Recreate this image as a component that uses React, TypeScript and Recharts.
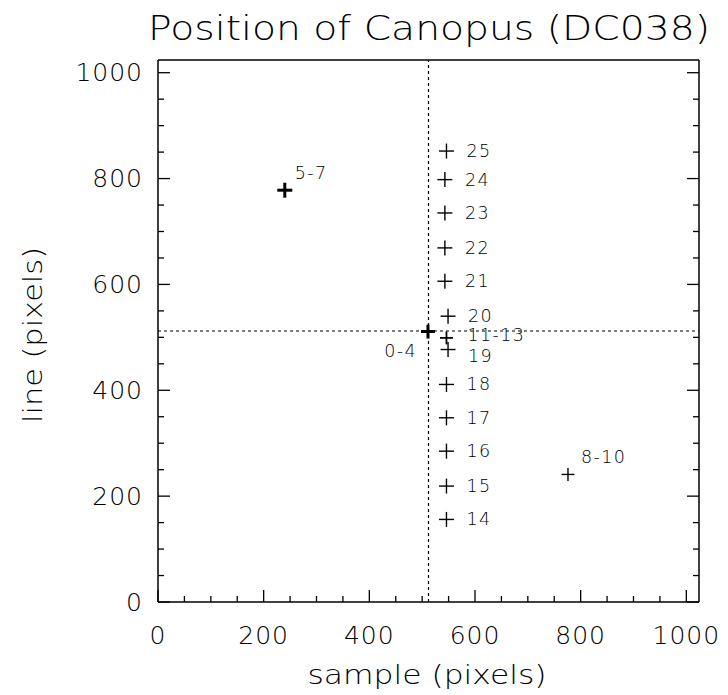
import React from "react";
import { ScatterChart, Scatter, XAxis, YAxis, ReferenceLine } from "recharts";

// frames 14-25, one exposure each
const singleLabels = ["14", "15", "16", "17", "18", "19", "20", "21", "22", "23", "24", "25"];
const singleSample = [546, 546, 546, 546, 546, 549, 549, 543, 543, 543, 543, 546];
const singleLine = [156, 219, 285, 348, 411, 477, 540, 606, 669, 735, 798, 852];

// grouped exposures
const groupLabels = ["0-4", "5-7", "8-10", "11-13"];
const groupSample = [511, 240, 776, 546];
const groupLine = [511, 778, 241, 499];

// boresight crosshair
const centerSample = 512;
const centerLine = 512;

const axisMax = 1024;
const majorTicks = [0, 200, 400, 600, 800, 1000];
const minorTicks = [
  0, 50, 100, 150, 200, 250, 300, 350, 400, 450, 500,
  550, 600, 650, 700, 750, 800, 850, 900, 950, 1000,
];

const FONT = "'DejaVu Sans', sans-serif";
const WEIGHT = 200;
const INK = "#000";

const singles = singleLabels.map((label, i) => ({
  label,
  sample: singleSample[i],
  line: singleLine[i],
}));
const groups = groupLabels.map((label, i) => ({
  label,
  sample: groupSample[i],
  line: groupLine[i],
}));
const pick = (label: string) => groups.filter((g) => g.label === label);
// label 19 sits a little lower than the others so it clears 11-13
const singlesMain = singles.filter((s) => s.label !== "19");
const singles19 = singles.filter((s) => s.label === "19");

const isMajor = (v: number) => majorTicks.includes(v);

function BottomTick({ x, y, payload }: any) {
  const v = payload.value;
  return (
    <g>
      <line x1={x} y1={y} x2={x} y2={y - (isMajor(v) ? 12 : 6)} stroke={INK} strokeWidth={1.3} />
      {isMajor(v) && (
        <text x={x} y={y + 33} textAnchor="middle" dominantBaseline="central" fontFamily={FONT} fontWeight={WEIGHT} fontSize={25} letterSpacing={1} fill={INK}>
          {v}
        </text>
      )}
    </g>
  );
}

function TopTick({ x, y, payload }: any) {
  const v = payload.value;
  return <line x1={x} y1={y} x2={x} y2={y + (isMajor(v) ? 12 : 6)} stroke={INK} strokeWidth={1.3} />;
}

function LeftTick({ x, y, payload }: any) {
  const v = payload.value;
  return (
    <g>
      <line x1={x} y1={y} x2={x + (isMajor(v) ? 12 : 6)} y2={y} stroke={INK} strokeWidth={1.3} />
      {isMajor(v) && (
        <text x={x - 15} y={y} textAnchor="end" dominantBaseline="central" fontFamily={FONT} fontWeight={WEIGHT} fontSize={25} letterSpacing={1} fill={INK}>
          {v}
        </text>
      )}
    </g>
  );
}

function RightTick({ x, y, payload }: any) {
  const v = payload.value;
  return <line x1={x} y1={y} x2={x - (isMajor(v) ? 12 : 6)} y2={y} stroke={INK} strokeWidth={1.3} />;
}

// plus marker with its label placed relative to it
function plus(half: number, sw: number, dx: number, dy: number, anchor: "start" | "end") {
  return (props: any) => {
    const { cx, cy, payload } = props;
    return (
      <g>
        <line x1={cx - half} y1={cy} x2={cx + half} y2={cy} stroke={INK} strokeWidth={sw} />
        <line x1={cx} y1={cy - half} x2={cx} y2={cy + half} stroke={INK} strokeWidth={sw} />
        <text
          x={cx + dx}
          y={cy + dy}
          textAnchor={anchor}
          dominantBaseline="central"
          fontFamily={FONT}
          fontWeight={WEIGHT}
          fontSize={17.5}
          letterSpacing={1.4}
          fill={INK}
        >
          {payload.label}
        </text>
      </g>
    );
  };
}

export default function App() {
  const W = 720;
  const H = 680;
  const overlayH = 686;
  return (
    <div style={{ position: "relative", width: W, height: overlayH }}>
      <ScatterChart width={W} height={H} margin={{ top: 51, right: 28, bottom: 0, left: 0 }}>
        <XAxis
          type="number"
          dataKey="sample"
          domain={[0, axisMax]}
          ticks={minorTicks}
          interval={0}
          allowDataOverflow
          height={86}
          tickSize={0}
          tickMargin={0}
          tickLine={false}
          axisLine={{ stroke: INK, strokeWidth: 1.5 }}
          tick={<BottomTick />}
        />
        <XAxis
          xAxisId="top"
          orientation="top"
          type="number"
          domain={[0, axisMax]}
          ticks={minorTicks}
          interval={0}
          allowDataOverflow
          height={1}
          tickSize={0}
          tickMargin={0}
          tickLine={false}
          axisLine={{ stroke: INK, strokeWidth: 1.5 }}
          tick={<TopTick />}
        />
        <YAxis
          type="number"
          dataKey="line"
          domain={[0, axisMax]}
          ticks={minorTicks}
          interval={0}
          allowDataOverflow
          width={150}
          tickSize={0}
          tickMargin={0}
          tickLine={false}
          axisLine={{ stroke: INK, strokeWidth: 1.5 }}
          tick={<LeftTick />}
        />
        <YAxis
          yAxisId="right"
          orientation="right"
          type="number"
          domain={[0, axisMax]}
          ticks={minorTicks}
          interval={0}
          allowDataOverflow
          width={1}
          tickSize={0}
          tickMargin={0}
          tickLine={false}
          axisLine={{ stroke: INK, strokeWidth: 1.5 }}
          tick={<RightTick />}
        />
        <ReferenceLine x={centerSample} stroke={INK} strokeWidth={1.2} strokeDasharray="3 3" />
        <ReferenceLine y={centerLine} stroke={INK} strokeWidth={1.2} strokeDasharray="3 3" />
        <Scatter data={singlesMain} shape={plus(7.5, 1.4, 20, 0, "start")} isAnimationActive={false} />
        <Scatter data={singles19} shape={plus(7.5, 1.4, 20, 6, "start")} isAnimationActive={false} />
        <Scatter data={pick("0-4")} shape={plus(7, 3, -11, 19, "end")} isAnimationActive={false} />
        <Scatter data={pick("5-7")} shape={plus(7.5, 3, 10, -17, "start")} isAnimationActive={false} />
        <Scatter data={pick("8-10")} shape={plus(6.5, 1.4, 13, -17, "start")} isAnimationActive={false} />
        <Scatter data={pick("11-13")} shape={plus(6.5, 1.8, 21, -3, "start")} isAnimationActive={false} />
      </ScatterChart>
      <svg width={W} height={overlayH} style={{ position: "absolute", left: 0, top: 0, pointerEvents: "none" }}>
        <text x={421} y={32} textAnchor="middle" fontFamily={FONT} fontWeight={WEIGHT} fontSize={34} textLength={562} lengthAdjust="spacingAndGlyphs" fill={INK}>
          Position of Canopus (DC038)
        </text>
        <text x={419} y={676} textAnchor="middle" fontFamily={FONT} fontWeight={WEIGHT} fontSize={26} textLength={239} lengthAdjust="spacingAndGlyphs" fill={INK}>
          sample (pixels)
        </text>
        <text
          x={25}
          y={327}
          textAnchor="middle"
          dominantBaseline="central"
          fontFamily={FONT}
          fontWeight={WEIGHT}
          fontSize={26}
          textLength={176}
          lengthAdjust="spacingAndGlyphs"
          fill={INK}
          transform="rotate(-90 25 327)"
        >
          line (pixels)
        </text>
      </svg>
    </div>
  );
}
